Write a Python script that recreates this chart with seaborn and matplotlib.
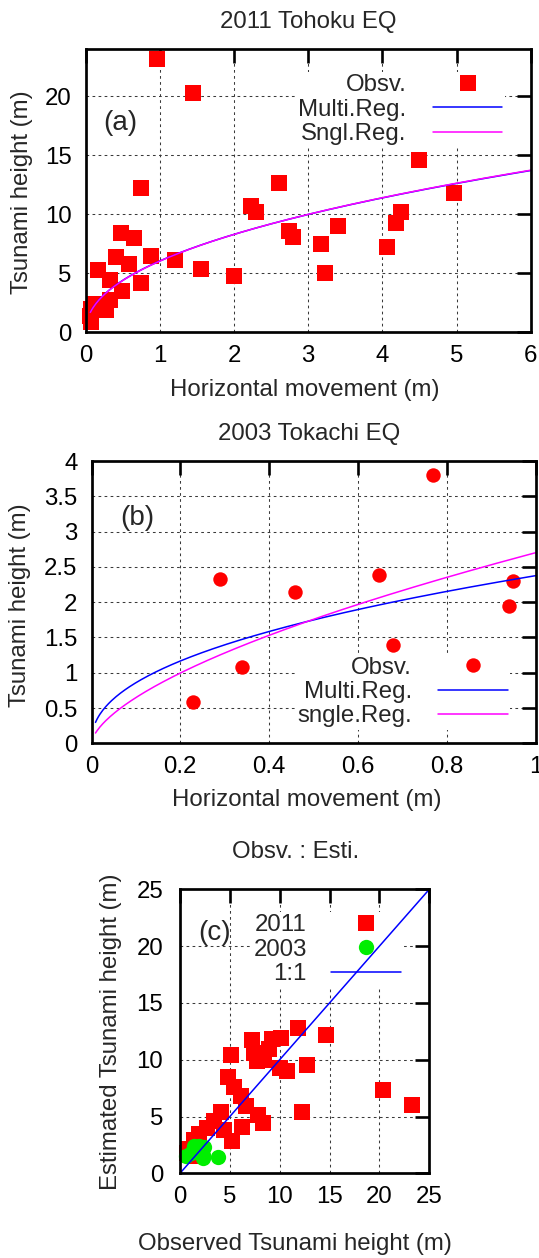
import numpy as np
import matplotlib
matplotlib.use("Agg")
import matplotlib.pyplot as plt
import seaborn as sns
from matplotlib.ticker import MultipleLocator, FuncFormatter

# ---------------- data ----------------
# (a) 2011 Tohoku EQ : horizontal movement (m) vs tsunami height (m)
tohoku_move = [0.957, 1.45, 4.50, 0.74, 2.61, 4.96, 2.23, 2.30, 4.25, 4.19, 3.40, 2.74,
               2.79, 3.17, 4.06, 3.23, 2.00, 1.56, 1.20, 0.88, 0.47, 0.65, 0.41, 0.58,
               0.17, 0.33, 0.74, 0.49, 0.33, 0.27, 0.13, 0.07, 0.06, 0.07]
tohoku_height = [23.2, 20.3, 14.6, 12.2, 12.7, 11.8, 10.7, 10.2, 10.2, 9.3, 9.0, 8.6,
                 8.1, 7.5, 7.2, 5.0, 4.8, 5.4, 6.1, 6.5, 8.4, 8.0, 6.4, 5.8,
                 5.3, 4.4, 4.15, 3.5, 2.75, 1.9, 2.4, 1.95, 1.35, 0.9]
# regression curves  h = a * d**b
tohoku_multi = (6.05, 0.457)
tohoku_sngl = (6.04, 0.459)
tohoku_curve_range = (0.062, 6.0)

# (b) 2003 Tokachi EQ
tokachi_move = [0.770, 0.289, 0.459, 0.648, 0.950, 0.940, 0.680, 0.339, 0.229]
tokachi_height = [3.80, 2.33, 2.14, 2.39, 2.30, 1.95, 1.39, 1.08, 0.59]
tokachi_multi = (2.375, 0.442)
tokachi_sngl = (2.70, 0.62)
tokachi_curve_range = (0.009, 1.0)

# (c) observed vs estimated tsunami height
obs_2011 = [23.3, 20.4, 14.6, 11.8, 12.7, 12.2, 10.1, 9.2, 7.2, 10.7, 10.0, 8.9, 8.4, 7.7,
            7.4, 5.1, 4.8, 5.4, 6.1, 6.6, 7.8, 8.3, 6.2, 4.1, 5.2, 4.4, 3.4, 2.7, 1.9,
            1.4, 0.9, 0.7, 1.7, 1.0]
est_2011 = [6.0, 7.3, 12.2, 12.8, 9.5, 5.4, 11.9, 11.8, 11.7, 9.0, 9.3, 10.9, 10.0, 9.9,
            10.6, 10.4, 8.5, 7.6, 6.8, 5.9, 5.1, 4.4, 4.1, 5.4, 2.8, 3.8, 4.6, 4.0, 3.5,
            2.9, 2.1, 1.8, 1.5, 1.6]
obs_2003 = [3.80, 2.33, 2.14, 2.39, 2.30, 1.95, 1.39, 1.08, 0.59]
est_2003 = [1.40, 1.35, 2.25, 2.30, 1.60, 2.40, 2.40, 1.75, 1.50]
one_to_one = [0, 25]

# ---------------- style ----------------
sns.set_style("white")
plt.rcParams["font.family"] = ["Liberation Sans", "DejaVu Sans"]
plt.rcParams["axes.unicode_minus"] = False

W, H = 539, 1258
fig = plt.figure(figsize=(W / 100, H / 100), dpi=100)
FS = 17.3


def fx(x):
    return x / W


def fy(y):
    return 1 - y / H


def make_axes(l, t, r, b):
    return fig.add_axes([l / W, 1 - b / H, (r - l) / W, (b - t) / H])


def style(ax, xlim, ylim, xstep, ystep, ypad):
    ax.set_xlim(*xlim)
    ax.set_ylim(*ylim)
    ax.xaxis.set_major_locator(MultipleLocator(xstep))
    ax.yaxis.set_major_locator(MultipleLocator(ystep))
    fmt = FuncFormatter(lambda v, p: f"{v:g}")
    ax.xaxis.set_major_formatter(fmt)
    ax.yaxis.set_major_formatter(fmt)
    ax.tick_params(direction="in", length=10, width=1.9, top=True, right=True,
                   labelsize=FS, colors="black")
    ax.tick_params(axis="x", pad=9)
    ax.tick_params(axis="y", pad=ypad)
    for s in ax.spines.values():
        s.set_visible(True)
        s.set_linewidth(1.95)
        s.set_color("black")
    ax.grid(True, color="#3a3a3a", linewidth=0.75, linestyle=(0, (2.6, 3.2)))
    ax.set_axisbelow(True)
    ax.set_xlabel("")
    ax.set_ylabel("")


def curve(ax, coef, xr, color):
    a, b = coef
    xs = np.linspace(xr[0], xr[1], 300)
    sns.lineplot(x=xs, y=a * xs ** b, color=color, linewidth=1.1, ax=ax,
                 estimator=None, sort=False, zorder=2)
    return ax.lines[-1]


def legend(ax, handles, labels, loc, anchor, textpad):
    leg = ax.legend(handles=handles, labels=labels, loc=loc, bbox_to_anchor=anchor,
                    markerfirst=False, frameon=True, fancybox=False, edgecolor="none",
                    facecolor="white", framealpha=1, fontsize=FS, handlelength=2.9,
                    handletextpad=textpad, labelspacing=0.1, borderpad=0.1,
                    borderaxespad=0, scatterpoints=1, scatteryoffsets=[0.5])
    leg.set_zorder(1.5)
    return leg


# ---------------- (a) ----------------
axa = make_axes(85.7, 49.3, 530.7, 332.3)
sns.scatterplot(x=tohoku_move, y=tohoku_height, marker="s", s=121, color="#ff0000",
                linewidth=0, ax=axa, legend=False, clip_on=False, zorder=1.8)
pts_a = axa.collections[-1]
la1 = curve(axa, tohoku_multi, tohoku_curve_range, "#0000ff")
la2 = curve(axa, tohoku_sngl, tohoku_curve_range, "#ff00ff")
style(axa, (0, 6), (0, 24), 1, 5, 10)
legend(axa, [pts_a, la1, la2], ["Obsv.", "Multi.Reg.", "Sngl.Reg."], "upper right",
       (0.9418, 0.920), 1.1)
fig.text(fx(308), fy(22.3), "2011 Tohoku EQ", ha="center", va="center", fontsize=FS)
fig.text(fx(305), fy(390), "Horizontal movement (m)", ha="center", va="center", fontsize=FS)
fig.text(fx(22.3), fy(191.7), "Tsunami height (m)", ha="center", va="center",
         rotation=90, fontsize=FS)
fig.text(fx(120.3), fy(123), "(a)", ha="center", va="center", fontsize=20)

# ---------------- (b) ----------------
axb = make_axes(91.5, 461, 535.5, 743.3)
sns.scatterplot(x=tokachi_move, y=tokachi_height, marker="o", s=108, color="#ff0000",
                linewidth=0, ax=axb, legend=False, clip_on=False, zorder=1.8)
pts_b = axb.collections[-1]
lb1 = curve(axb, tokachi_multi, tokachi_curve_range, "#0000ff")
lb2 = curve(axb, tokachi_sngl, tokachi_curve_range, "#ff00ff")
style(axb, (0, 1), (0, 4), 0.2, 0.5, 10)
legend(axb, [pts_b, lb1, lb2], ["Obsv.", "Multi.Reg.", "sngle.Reg."], "lower right",
       (0.9432, 0.0475), 1.1)
fig.text(fx(308.7), fy(434), "2003 Tokachi EQ", ha="center", va="center", fontsize=FS)
fig.text(fx(307), fy(800), "Horizontal movement (m)", ha="center", va="center", fontsize=FS)
fig.text(fx(19.8), fy(605), "Tsunami height (m)", ha="center", va="center",
         rotation=90, fontsize=FS)
fig.text(fx(137.5), fy(518), "(b)", ha="center", va="center", fontsize=20)

# ---------------- (c) ----------------
axc = make_axes(180, 889.3, 429.3, 1173.3)
sns.scatterplot(x=obs_2011, y=est_2011, marker="s", s=121, color="#ff0000",
                linewidth=0, ax=axc, legend=False, clip_on=False, zorder=1.8)
pts_c1 = axc.collections[-1]
sns.scatterplot(x=obs_2003, y=est_2003, marker="o", s=121, color="#00ee00",
                linewidth=0, ax=axc, legend=False, clip_on=False, zorder=1.9)
pts_c2 = axc.collections[-1]
sns.lineplot(x=one_to_one, y=one_to_one, color="#0000ff", linewidth=1.1, ax=axc,
             estimator=None, zorder=2)
lc = axc.lines[-1]
style(axc, (0, 25), (0, 25), 5, 5, 12)
legend(axc, [pts_c1, pts_c2, lc], ["2011", "2003", "1:1"], "upper right",
       (0.8944, 0.920), 1.0)
fig.text(fx(296), fy(852), "Obsv. : Esti.", ha="center", va="center", fontsize=FS)
fig.text(fx(294.6), fy(1244), "Observed Tsunami height (m)", ha="center", va="center",
         fontsize=FS)
fig.text(fx(110.8), fy(1031.7), "Estimated Tsunami height (m)", ha="center", va="center",
         rotation=90, fontsize=FS)
fig.text(fx(215), fy(933), "(c)", ha="center", va="center", fontsize=20)

fig.savefig("out.png", dpi=100)
